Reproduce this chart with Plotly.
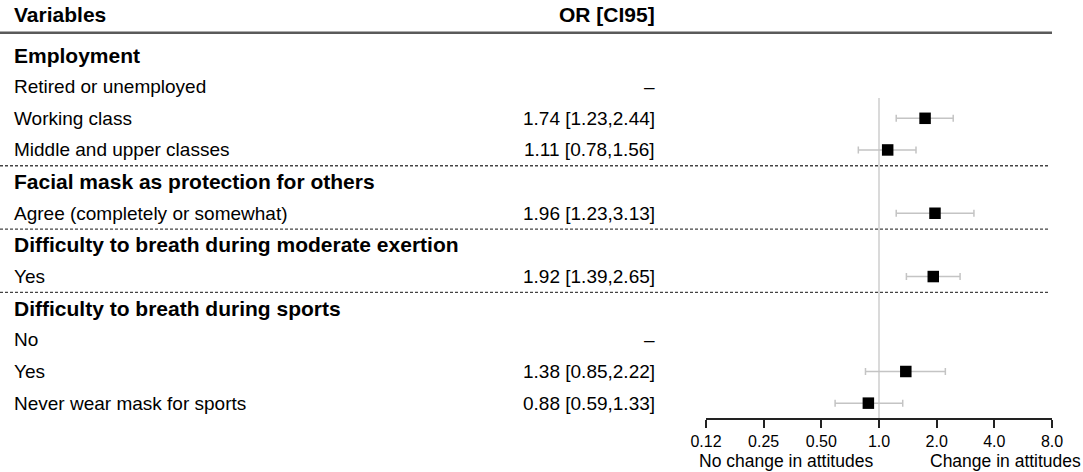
import math
import plotly.graph_objects as go

# ---- table content -------------------------------------------------------
row_labels = [
    "Employment",
    "Retired or unemployed",
    "Working class",
    "Middle and upper classes",
    "Facial mask as protection for others",
    "Agree (completely or somewhat)",
    "Difficulty to breath during moderate exertion",
    "Yes",
    "Difficulty to breath during sports",
    "No",
    "Yes",
    "Never wear mask for sports",
]
is_group_header = [True, False, False, False, True, False, True, False, True, False, False, False]

# odds ratios with 95% confidence limits (None = reference level / header)
odds_ratio = [None, None, 1.74, 1.11, None, 1.96, None, 1.92, None, None, 1.38, 0.88]
ci_low     = [None, None, 1.23, 0.78, None, 1.23, None, 1.39, None, None, 0.85, 0.59]
ci_high    = [None, None, 2.44, 1.56, None, 3.13, None, 2.65, None, None, 2.22, 1.33]
reference_rows = [1, 9]

group_separators = [3.5, 5.5, 7.5]

tick_values = [0.125, 0.25, 0.5, 1.0, 2.0, 4.0, 8.0]
tick_labels = ["0.12", "0.25", "0.50", "1.0", "2.0", "4.0", "8.0"]

# ---- geometry ------------------------------------------------------------
W, H = 1083, 472
FONT = "Liberation Sans, Arial, Helvetica, sans-serif"
ROW_TOP_PX = 55.0       # centre of first table row
ROW_STEP_PX = 31.65     # row spacing
AXIS_PX = 418.0         # pixel row of the x axis line

y_top = -ROW_TOP_PX / ROW_STEP_PX
y_bottom = (AXIS_PX - ROW_TOP_PX) / ROW_STEP_PX

fig = go.Figure()

# point estimates with confidence intervals
idx = [i for i, v in enumerate(odds_ratio) if v is not None]
fig.add_trace(go.Scatter(
    x=[odds_ratio[i] for i in idx],
    y=idx,
    mode="markers",
    marker=dict(symbol="square", size=11.5, color="black"),
    error_x=dict(
        type="data", symmetric=False,
        array=[ci_high[i] - odds_ratio[i] for i in idx],
        arrayminus=[odds_ratio[i] - ci_low[i] for i in idx],
        color="#c4c4c4", thickness=1.5, width=3.5,
    ),
    cliponaxis=False,
    showlegend=False,
    hoverinfo="skip",
))

annotations = []

# column headers
for txt, xpos, anchor in (("<b>Variables</b>", 12, "left"), ("<b>OR [CI95]</b>", 657, "right")):
    annotations.append(dict(text=txt, x=xpos / W, xref="paper", xanchor=anchor,
                            y=-1.27, yref="y", yanchor="middle", showarrow=False,
                            font=dict(family=FONT, size=21, color="black")))

for i, lab in enumerate(row_labels):
    if is_group_header[i]:
        txt, size = f"<b>{lab}</b>", 21
    else:
        txt, size = lab, 19
    annotations.append(dict(text=txt, x=12 / W, xref="paper", xanchor="left",
                            y=i, yref="y", yanchor="middle", showarrow=False,
                            font=dict(family=FONT, size=size, color="black")))
    if odds_ratio[i] is not None:
        val = f"{odds_ratio[i]:.2f} [{ci_low[i]:.2f},{ci_high[i]:.2f}]"
    elif i in reference_rows:
        val = "\u2013"
    else:
        val = None
    if val is not None:
        annotations.append(dict(text=val, x=657 / W, xref="paper", xanchor="right",
                                y=i, yref="y", yanchor="middle", showarrow=False,
                                font=dict(family=FONT, size=19, color="black")))

# axis captions along the bottom edge (log axis: annotation x is in log10 units)
annotations.append(dict(text="No change in attitudes", x=math.log10(1.0), xref="x",
                        xanchor="right", xshift=-5, borderpad=0,
                        y=0, yref="paper", yanchor="bottom",
                        showarrow=False, font=dict(family=FONT, size=17.5, color="black")))
annotations.append(dict(text="Change in attitudes", x=1082 / W, xref="paper", xanchor="right",
                        borderpad=0, y=0, yref="paper", yanchor="bottom",
                        showarrow=False, font=dict(family=FONT, size=17.5, color="black")))

shapes = []
# rule under the column headers
shapes.append(dict(type="line", xref="paper", x0=0, x1=1052 / W, yref="y", y0=-0.7, y1=-0.7,
                   line=dict(color="#5a5a5a", width=2.5), layer="below"))
# dotted separators between variable groups
for s in group_separators:
    shapes.append(dict(type="line", xref="paper", x0=0, x1=1050 / W, yref="y", y0=s, y1=s,
                       line=dict(color="#444444", width=1.3, dash="3px,2px"), layer="below"))
# line of no effect
shapes.append(dict(type="line", xref="x", x0=1, x1=1, yref="y",
                   y0=(98 - ROW_TOP_PX) / ROW_STEP_PX, y1=y_bottom,
                   line=dict(color="#dadada", width=2), layer="below"))

fig.update_layout(
    width=W, height=H, autosize=False,
    margin=dict(l=0, r=0, t=0, b=0, pad=0, autoexpand=False),
    paper_bgcolor="white", plot_bgcolor="white",
    font=dict(family=FONT, color="black"),
    showlegend=False,
    xaxis=dict(
        type="log",
        domain=[706 / W, 1052 / W],
        range=[math.log10(tick_values[0]), math.log10(tick_values[-1])],
        tickvals=tick_values, ticktext=tick_labels,
        showline=True, linecolor="#222222", linewidth=1.6,
        ticks="outside", ticklen=8, tickwidth=1.6, tickcolor="#222222",
        ticklabelstandoff=0,
        tickfont=dict(family=FONT, size=16, color="black"),
        showgrid=False, zeroline=False, fixedrange=True, automargin=False,
    ),
    yaxis=dict(
        domain=[(H - AXIS_PX) / H, 1],
        range=[y_bottom, y_top],
        visible=False, showgrid=False, zeroline=False, fixedrange=True, automargin=False,
    ),
    annotations=annotations,
    shapes=shapes,
)

fig.write_html("out.html")
